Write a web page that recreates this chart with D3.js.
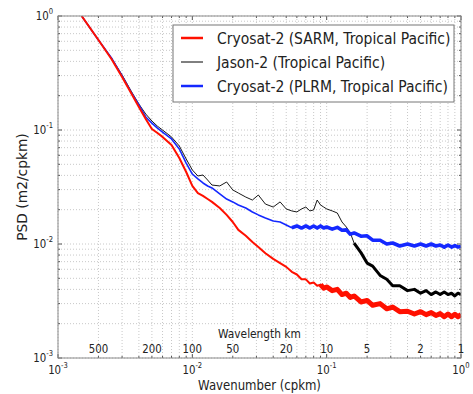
<!DOCTYPE html>
<html>
<head>
<meta charset="utf-8">
<script src="https://cdn.jsdelivr.net/npm/d3@7"></script>
<style>
	body { margin: 0; background: #fff; }
	text { font-family: "DejaVu Sans", sans-serif; fill: #222; }
</style>
</head>
<body>
<div id="chart"></div>
<script>
// wavenumber grid (cpkm), shared by the three spectra
let wavenumber	= [0.0015, 0.002, 0.0025, 0.003, 0.0035, 0.004, 0.0045, 0.005, 0.0055, 0.006,
	0.007, 0.008, 0.009, 0.01, 0.011, 0.012, 0.013, 0.014, 0.016, 0.018,
	0.02, 0.022, 0.025, 0.028, 0.031, 0.035, 0.04, 0.045, 0.05, 0.055,
	0.06, 0.065, 0.07, 0.075, 0.08, 0.085, 0.09, 0.095, 0.1, 0.11,
	0.12, 0.13, 0.14, 0.15, 0.16, 0.18, 0.2, 0.22, 0.25, 0.28,
	0.31, 0.35, 0.4, 0.45, 0.5, 0.55, 0.6, 0.65, 0.7, 0.75,
	0.8, 0.85, 0.9, 0.95, 1.0];

// PSD (m2/cpkm)
let psdSARM		= [1.0, 0.616, 0.42, 0.292, 0.211, 0.159, 0.125, 0.102, 0.094, 0.087,
	0.0739, 0.0568, 0.0428, 0.0323, 0.028, 0.0264, 0.0248, 0.0234, 0.0207, 0.018,
	0.0156, 0.0133, 0.0118, 0.0104, 0.0094, 0.0083, 0.0074, 0.0068, 0.0063, 0.0057,
	0.0054, 0.0049, 0.0049, 0.0045, 0.0046, 0.0043, 0.0044, 0.0041, 0.0042, 0.0039,
	0.004, 0.0036, 0.0037, 0.0034, 0.0035, 0.0031, 0.0032, 0.0029, 0.003, 0.0027,
	0.0028, 0.00255, 0.00257, 0.00243, 0.00255, 0.0024, 0.0025, 0.00236, 0.00245, 0.0023,
	0.00243, 0.0023, 0.00242, 0.0023, 0.0024];

let psdJason	= [1.0, 0.616, 0.428, 0.304, 0.22, 0.169, 0.138, 0.12, 0.108, 0.1,
	0.0868, 0.0724, 0.0557, 0.0446, 0.0395, 0.0403, 0.0364, 0.0329, 0.0323, 0.035,
	0.0298, 0.028, 0.0258, 0.0243, 0.0269, 0.0224, 0.0211, 0.0234, 0.0203, 0.0195,
	0.0191, 0.0203, 0.0211, 0.0195, 0.0199, 0.0243, 0.022, 0.0211, 0.0203, 0.0195,
	0.0187, 0.0156, 0.0141, 0.0125, 0.0102, 0.0084, 0.0068, 0.0064, 0.0053, 0.0049,
	0.0043, 0.0043, 0.0039, 0.004, 0.0037, 0.0039, 0.0036, 0.0038, 0.0036, 0.0038,
	0.0036, 0.0037, 0.0035, 0.0037, 0.0036];

let psdPLRM		= [1.0, 0.616, 0.428, 0.298, 0.215, 0.166, 0.13, 0.115, 0.104, 0.096,
	0.0834, 0.0681, 0.0513, 0.0411, 0.0372, 0.0343, 0.0323, 0.031, 0.0275, 0.0248,
	0.0234, 0.022, 0.0207, 0.0191, 0.018, 0.0169, 0.0159, 0.0156, 0.0147, 0.0139,
	0.0144, 0.0138, 0.0144, 0.0138, 0.0144, 0.0138, 0.0144, 0.0138, 0.0141, 0.0135,
	0.014, 0.0132, 0.0133, 0.0122, 0.0125, 0.0117, 0.0118, 0.0108, 0.0108, 0.01,
	0.0102, 0.0096, 0.01, 0.0096, 0.01, 0.0096, 0.01, 0.0096, 0.0098, 0.0094,
	0.0098, 0.0094, 0.0097, 0.0094, 0.0095];

let seriesNames		= ["Cryosat-2 (SARM, Tropical Pacific)", "Jason-2 (Tropical Pacific)", "Cryosat-2 (PLRM, Tropical Pacific)"];
let seriesColors	= ["#ff1000", "#000000", "#1428ff"];
let seriesWidths	= [2, 0.9, 1.6];
// where each spectrum turns into a noisy band, and how thick that band is drawn
let noiseFrom		= [0.09, 0.16, 0.055];
let noiseWidths		= [5, 3, 3.6];

let decadeTicks		= [1e-3, 1e-2, 1e-1, 1];
let decadeExps		= ["-3", "-2", "-1", "0"];
let wavelengthKm	= [500, 200, 100, 50, 20, 10, 5, 2, 1];

function createChart() {
	let canvasWidth		= 473;
	let canvasHeight	= 394;
	let margin			= { top: 16, right: 12, bottom: 36, left: 58 };
	let width			= canvasWidth - margin.left - margin.right;
	let height			= canvasHeight - margin.top - margin.bottom;
	let squish			= 0.85;	// the original picture is a little narrower than it is tall

	let x = d3.scaleLog().domain([1e-3, 1]).range([0, width]);
	let y = d3.scaleLog().domain([1e-3, 1]).range([height, 0]);

	let svg = d3.select("#chart").append("svg")
		.attr("width", canvasWidth)
		.attr("height", canvasHeight)
		.append("g")
			.attr("transform", "translate(" + margin.left + "," + margin.top + ")");

	svg.append("clipPath").attr("id", "plot-clip")
		.append("rect").attr("width", width).attr("height", height);

	// minor + major grid
	let minor = [];
	for (let d = -3; d < 0; d++) for (let m = 1; m < 10; m++) minor.push(m * Math.pow(10, d));
	minor.push(1);

	svg.selectAll("line.vgrid").data(minor).enter().append("line")
		.attr("class", "vgrid")
		.attr("x1", (d) => x(d)).attr("x2", (d) => x(d))
		.attr("y1", 0).attr("y2", height)
		.attr("stroke", "#c8c8c8").attr("stroke-dasharray", "1,2");

	svg.selectAll("line.hgrid").data(minor).enter().append("line")
		.attr("class", "hgrid")
		.attr("y1", (d) => y(d)).attr("y2", (d) => y(d))
		.attr("x1", 0).attr("x2", width)
		.attr("stroke", "#c8c8c8").attr("stroke-dasharray", "1,2");

	// spectra
	let line = d3.line()
		.x((d) => x(d[0]))
		.y((d) => y(d[1]));

	let allPsd = [psdSARM, psdJason, psdPLRM];
	let plot = svg.append("g").attr("clip-path", "url(#plot-clip)");
	[1, 2, 0].forEach((i) => {
		let pts = wavenumber.map((k, j) => [k, allPsd[i][j]]);
		plot.append("path")
			.datum(pts)
			.attr("d", line)
			.attr("fill", "none")
			.attr("stroke", seriesColors[i])
			.attr("stroke-width", seriesWidths[i])
			.attr("stroke-linejoin", "round");
		plot.append("path")
			.datum(pts.filter((p) => p[0] >= noiseFrom[i]))
			.attr("d", line)
			.attr("fill", "none")
			.attr("stroke", seriesColors[i])
			.attr("stroke-width", noiseWidths[i])
			.attr("stroke-linejoin", "round");
	});

	// inside ticks on all four sides
	let isMajor = (d) => Math.abs(Math.log10(d) - Math.round(Math.log10(d))) < 1e-6;
	let tickLen = (d) => (isMajor(d) ? 4 : 2);
	let ticks = svg.append("g").attr("stroke", "#555");
	minor.forEach((d) => {
		ticks.append("line").attr("x1", x(d)).attr("x2", x(d)).attr("y1", height).attr("y2", height - tickLen(d));
		ticks.append("line").attr("x1", x(d)).attr("x2", x(d)).attr("y1", 0).attr("y2", tickLen(d));
		ticks.append("line").attr("y1", y(d)).attr("y2", y(d)).attr("x1", 0).attr("x2", tickLen(d));
		ticks.append("line").attr("y1", y(d)).attr("y2", y(d)).attr("x1", width).attr("x2", width - tickLen(d));
	});

	svg.append("rect")
		.attr("width", width).attr("height", height)
		.attr("fill", "none").attr("stroke", "#8a8a8a");

	// helper for horizontally squeezed text
	function label(parent, px, py, anchor, size, sx) {
		return parent.append("g")
			.attr("transform", "translate(" + px + "," + py + ") scale(" + (sx || squish) + ",1)")
			.append("text")
				.attr("text-anchor", anchor)
				.attr("font-size", size);
	}

	// tick labels 10^n
	decadeTicks.forEach((d, i) => {
		let t = label(svg, x(d), height + 16, "middle", 12);
		t.append("tspan").text("10");
		t.append("tspan").attr("font-size", 8).attr("dy", -6).text(decadeExps[i]);

		let u = label(svg, -5, y(d) + 4, "end", 12);
		u.append("tspan").text("10");
		u.append("tspan").attr("font-size", 8).attr("dy", -6).text(decadeExps[i]);
	});

	// wavelength scale inside the plot
	wavelengthKm.forEach((w) => {
		label(svg, x(1 / w), height - 5, "middle", 12).text(w);
	});
	label(svg, x(0.03) + 3, height - 20, "middle", 12.5).text("Wavelength km");

	label(svg, width / 2, height + 32, "middle", 13.8).text("Wavenumber (cpkm)");

	svg.append("text")
		.attr("transform", "translate(" + (-31) + "," + (height / 2) + ") rotate(-90)")
		.attr("text-anchor", "middle")
		.attr("font-size", 13.8)
		.text("PSD (m2/cpkm)");

	// legend
	let legend = svg.append("g").attr("transform", "translate(" + (173 - margin.left) + "," + (25 - margin.top) + ")");
	legend.append("rect")
		.attr("width", 281).attr("height", 77)
		.attr("fill", "#fff").attr("stroke", "#777");

	seriesNames.forEach((name, i) => {
		let ly = 13 + i * 24;
		legend.append("line")
			.attr("x1", 8).attr("x2", 30).attr("y1", ly).attr("y2", ly)
			.attr("stroke", seriesColors[i])
			.attr("stroke-width", i == 1 ? 1 : 2.5);
		label(legend, 44, ly + 5.5, "start", 16, 0.87).text(name);
	});
}

createChart();
</script>
</body>
</html>
